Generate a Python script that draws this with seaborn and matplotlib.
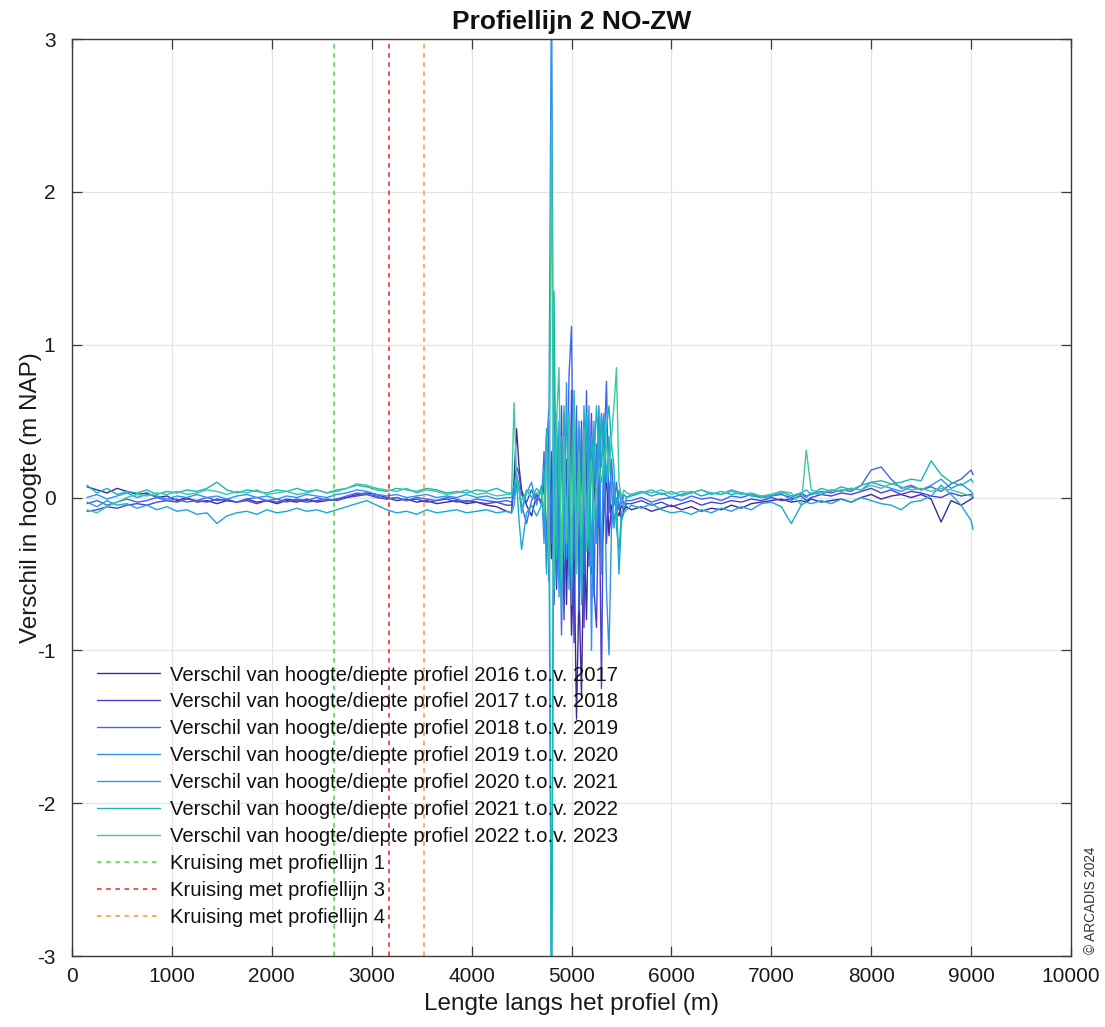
import numpy as np
import pandas as pd
import matplotlib
matplotlib.use("Agg")
import matplotlib.pyplot as plt
import seaborn as sns

# ---------------- data ----------------
dist_left = [150, 250, 350, 450, 550, 650, 750, 850, 950, 1050, 1150, 1250, 1350, 1450, 1550,
             1650, 1750, 1850, 1950, 2050, 2150, 2250, 2350, 2450, 2550, 2650, 2750, 2850, 2950,
             3050, 3150, 3250, 3350, 3450, 3550, 3650, 3750, 3850, 3950, 4050, 4150, 4250, 4350]
dist_mid = [4400, 4425, 4450, 4475, 4500, 4550, 4600, 4650, 4700, 4725, 4750, 4775, 4800, 4825,
            4850, 4875, 4900, 4925, 4950, 4975, 5000, 5025, 5050, 5075, 5100, 5125, 5150, 5175,
            5200, 5225, 5250, 5275, 5300, 5325, 5350, 5375, 5400, 5425, 5450, 5475, 5500, 5525, 5550]
dist_right = [5600, 5700, 5800, 5900, 6000, 6100, 6200, 6300, 6400, 6500, 6600, 6700, 6800, 6900,
              7000, 7100, 7200, 7300, 7350, 7400, 7500, 7600, 7700, 7800, 7900, 8000, 8100, 8200,
              8300, 8400, 8500, 8600, 8700, 8800, 8900, 9000, 9020]
afstand = dist_left + dist_mid + dist_right

v2016_2017 = [0.07, 0.05, 0.03, 0.06, 0.04, 0.02, 0.03, 0.00, 0.01, -0.02, 0.00, -0.03, -0.02, -0.04, -0.02, -0.03, -0.01, -0.03, -0.02, -0.04, -0.02, -0.03, -0.01, -0.03, -0.02, -0.01, 0.00, 0.02, 0.03, 0.02, 0.00, -0.02, -0.01, -0.03, -0.02, -0.04, -0.03, -0.02, -0.04, -0.03, -0.05, -0.06, -0.09,
              -0.10, 0.12, 0.45, 0.20, 0.05, -0.05, -0.12, 0.02, -0.03, 0.10, -0.35, 0.25, -0.40, 0.30, -0.60, 0.20, -0.45, 0.35, -0.70, 0.15, -0.90, -0.30, -1.45, -0.60, -1.30, -0.20, -0.80, 0.10, -0.50, 0.20, -0.30, 0.05, -0.40, -0.10, 0.15, -0.25, -0.05, -0.15, -0.08, -0.12, -0.05, -0.08, -0.06,
              -0.08, -0.06, -0.09, -0.07, -0.05, -0.08, -0.06, -0.09, -0.07, -0.08, -0.05, -0.07, -0.04, -0.03, -0.02, -0.01, -0.03, -0.02, -0.03, -0.01, -0.03, -0.02, -0.01, -0.03, 0.00, 0.02, -0.01, 0.01, 0.02, 0.00, 0.02, -0.01, -0.16, -0.02, -0.05, -0.01, 0.00]
v2017_2018 = [-0.09, -0.08, -0.06, -0.07, -0.05, -0.04, -0.05, -0.03, -0.02, -0.03, -0.01, -0.02, -0.03, -0.01, -0.02, -0.03, -0.02, -0.04, -0.02, -0.03, -0.01, -0.02, -0.03, -0.02, -0.01, -0.02, 0.00, 0.01, 0.02, 0.00, -0.01, 0.00, -0.02, -0.01, -0.03, -0.02, -0.01, -0.03, -0.02, -0.03, -0.04, -0.03, -0.05,
              -0.05, 0.05, 0.20, 0.15, 0.02, -0.03, 0.05, -0.02, 0.05, -0.20, 0.40, -0.55, 0.30, -0.70, 0.45, -0.40, 0.60, -0.80, 0.25, -0.50, 0.70, -0.95, 0.35, -0.60, 0.50, -0.85, 0.30, -0.45, 0.55, -0.60, -0.85, 0.20, -1.25, 0.45, -0.30, 0.10, -0.20, 0.05, -0.10, -0.05, -0.15, -0.08, -0.04,
              -0.04, -0.02, -0.05, -0.03, -0.06, -0.04, -0.02, -0.05, -0.03, -0.04, -0.02, -0.03, -0.01, -0.02, 0.00, -0.02, -0.01, 0.01, -0.02, 0.00, 0.02, 0.01, 0.03, 0.02, 0.04, 0.06, 0.03, 0.05, 0.02, 0.04, 0.03, 0.01, 0.00, 0.03, 0.01, 0.02, 0.00]
v2018_2019 = [-0.04, -0.02, -0.05, -0.03, -0.01, -0.03, -0.02, 0.00, -0.02, -0.01, -0.03, -0.02, 0.00, -0.02, -0.01, -0.03, -0.01, 0.00, -0.02, -0.01, -0.03, -0.01, -0.02, 0.00, -0.02, -0.01, 0.01, 0.03, 0.02, 0.01, -0.01, 0.00, -0.02, 0.00, -0.01, -0.02, 0.00, -0.01, -0.03, -0.01, -0.02, -0.03, -0.02,
              -0.03, 0.02, 0.10, 0.05, -0.05, -0.17, -0.02, 0.03, -0.05, 0.30, -0.45, 0.50, -0.30, 0.65, -0.55, 0.40, -0.90, 0.55, -0.35, 0.80, 1.12, -0.40, 0.60, -0.75, 0.45, -0.50, 0.70, -0.30, 0.50, -0.65, 0.35, -0.20, 0.55, 0.30, 0.76, -0.10, 0.25, -0.05, 0.10, -0.08, 0.02, -0.05, -0.02,
              -0.02, 0.00, -0.03, -0.01, 0.00, -0.02, 0.01, -0.01, 0.00, -0.02, 0.01, 0.00, 0.02, 0.00, 0.01, 0.02, 0.00, 0.03, 0.01, 0.02, 0.04, 0.03, 0.05, 0.04, 0.08, 0.18, 0.20, 0.12, 0.06, 0.08, 0.05, 0.07, 0.04, 0.09, 0.12, 0.18, 0.15]
v2019_2020 = [0.00, 0.02, -0.01, 0.01, 0.03, 0.00, 0.02, 0.01, -0.01, 0.01, 0.00, 0.02, 0.00, 0.01, -0.01, 0.01, 0.02, 0.00, 0.01, -0.01, 0.01, 0.00, 0.02, 0.01, 0.00, 0.02, 0.03, 0.05, 0.04, 0.02, 0.01, 0.02, 0.00, 0.01, 0.02, 0.00, 0.01, 0.00, 0.02, 0.00, 0.01, -0.01, 0.00,
              0.00, 0.05, 0.15, 0.08, -0.10, 0.03, 0.10, -0.05, 0.08, -0.30, 0.35, 0.60, 3.50, -0.50, 0.55, -0.65, 0.40, -0.35, 0.75, -0.60, 0.30, 0.65, -0.45, 0.50, -0.70, 0.40, -0.30, 0.60, -1.00, 0.35, 0.10, 0.60, -0.50, 0.40, -0.60, -1.03, -0.20, 0.10, -0.15, 0.05, -0.05, 0.02, 0.00,
              0.02, 0.04, 0.01, 0.03, 0.00, 0.02, 0.04, 0.01, 0.03, 0.02, 0.05, 0.03, 0.02, 0.00, 0.01, 0.03, -0.02, 0.02, 0.00, 0.03, 0.02, 0.05, 0.04, 0.06, 0.05, 0.10, 0.08, 0.06, 0.04, 0.07, 0.05, 0.08, 0.12, 0.06, 0.09, 0.04, 0.02]
v2020_2021 = [-0.03, -0.06, -0.02, -0.05, -0.04, -0.07, -0.05, -0.08, -0.06, -0.09, -0.08, -0.11, -0.10, -0.17, -0.12, -0.10, -0.09, -0.11, -0.08, -0.10, -0.09, -0.07, -0.09, -0.08, -0.10, -0.08, -0.06, -0.04, -0.02, -0.05, -0.08, -0.10, -0.09, -0.11, -0.08, -0.10, -0.09, -0.08, -0.10, -0.09, -0.08, -0.10, -0.09,
              -0.10, -0.05, 0.10, -0.15, -0.34, -0.10, -0.05, -0.12, -0.05, 0.20, -0.50, 0.30, -3.50, 0.40, -0.35, 0.50, -0.60, 0.30, -0.40, 0.55, -0.70, 0.25, -0.35, 0.45, -0.55, 0.60, -0.25, 0.40, -0.45, 0.50, -0.30, 0.45, 0.20, 0.55, 0.10, 0.40, 0.05, -0.20, 0.00, -0.50, -0.15, -0.10, -0.08,
              -0.05, -0.07, -0.04, -0.08, -0.10, -0.09, -0.11, -0.08, -0.10, -0.07, -0.09, -0.06, -0.08, -0.04, -0.03, -0.06, -0.17, -0.05, -0.03, -0.04, -0.02, -0.04, -0.01, -0.03, 0.00, -0.02, -0.04, -0.05, -0.08, -0.03, -0.02, 0.01, 0.08, 0.02, -0.05, -0.15, -0.21]
v2021_2022 = [0.08, 0.03, 0.06, 0.02, 0.04, 0.03, 0.05, 0.02, 0.04, 0.03, 0.05, 0.04, 0.06, 0.10, 0.05, 0.03, 0.05, 0.04, 0.03, 0.05, 0.04, 0.06, 0.04, 0.05, 0.03, 0.05, 0.06, 0.08, 0.07, 0.05, 0.04, 0.06, 0.05, 0.04, 0.06, 0.05, 0.03, 0.04, 0.03, 0.05, 0.04, 0.06, 0.03,
              0.03, 0.08, 0.15, 0.05, -0.08, 0.05, 0.00, 0.06, 0.02, -0.15, 0.45, -0.30, -3.50, 1.35, -0.40, 0.35, -0.75, 0.60, -0.30, 0.40, -0.55, 0.70, -0.20, 0.35, -0.65, 0.30, 0.55, -0.35, 0.40, 0.20, 0.60, 0.30, 0.55, 0.15, 0.45, 0.60, 0.35, 0.20, -0.20, -0.35, -0.10, -0.05, 0.00,
              0.01, 0.03, 0.05, 0.02, 0.04, 0.01, 0.03, 0.05, 0.02, 0.04, 0.02, 0.03, 0.01, 0.00, 0.02, 0.04, 0.01, 0.03, 0.05, 0.02, 0.06, 0.04, 0.07, 0.05, 0.08, 0.10, 0.11, 0.09, 0.10, 0.12, 0.11, 0.24, 0.15, 0.10, 0.08, 0.12, 0.10]
v2022_2023 = [-0.08, -0.10, -0.06, -0.03, 0.00, 0.02, 0.01, 0.03, 0.02, 0.04, 0.02, 0.03, 0.05, 0.04, 0.02, 0.04, 0.03, 0.05, 0.02, 0.03, 0.04, 0.02, 0.03, 0.05, 0.03, 0.04, 0.06, 0.09, 0.08, 0.06, 0.05, 0.04, 0.06, 0.03, 0.05, 0.04, 0.02, 0.03, 0.05, 0.02, 0.03, 0.01, 0.02,
              0.02, 0.62, 0.12, 0.04, -0.02, 0.04, 0.05, 0.02, 0.05, -0.10, 0.30, -0.45, 2.45, -0.60, 0.50, 0.85, -0.55, 0.40, -0.30, 0.55, -0.45, 0.65, -0.50, 0.30, -0.25, 0.45, -0.35, 0.10, 0.25, -0.15, 0.05, 0.20, 0.10, 0.25, 0.35, 0.15, 0.40, 0.60, 0.85, 0.10, 0.00, 0.05, 0.03,
              0.02, 0.04, 0.03, 0.05, 0.02, 0.04, 0.03, 0.05, 0.03, 0.02, 0.04, 0.02, 0.03, 0.01, 0.02, 0.04, 0.03, -0.05, 0.31, 0.05, 0.03, 0.05, 0.04, 0.06, 0.05, 0.08, 0.06, 0.09, 0.07, 0.05, 0.06, 0.04, 0.06, 0.05, 0.03, 0.01, 0.01]

series_labels = [
    "Verschil van hoogte/diepte profiel 2016 t.o.v. 2017",
    "Verschil van hoogte/diepte profiel 2017 t.o.v. 2018",
    "Verschil van hoogte/diepte profiel 2018 t.o.v. 2019",
    "Verschil van hoogte/diepte profiel 2019 t.o.v. 2020",
    "Verschil van hoogte/diepte profiel 2020 t.o.v. 2021",
    "Verschil van hoogte/diepte profiel 2021 t.o.v. 2022",
    "Verschil van hoogte/diepte profiel 2022 t.o.v. 2023",
]
series_values = [v2016_2017, v2017_2018, v2018_2019, v2019_2020, v2020_2021, v2021_2022, v2022_2023]
series_colors = ["#3e2a9c", "#4a40d4", "#3e66ec", "#2f92ee", "#1ca6d6", "#18b6b8", "#3cc89c"]

kruising_pos = [2623, 3173, 3523]
kruising_labels = ["Kruising met profiellijn 1", "Kruising met profiellijn 3", "Kruising met profiellijn 4"]
kruising_colors = ["#3ddc3d", "#ee2222", "#f59a30"]

x_ticks = [0, 1000, 2000, 3000, 4000, 5000, 6000, 7000, 8000, 9000, 10000]
y_ticks = [-3, -2, -1, 0, 1, 2, 3]

for v in series_values:
    assert len(v) == len(afstand), len(v)

rows = []
for lab, vals in zip(series_labels, series_values):
    for xx, yy in zip(afstand, vals):
        rows.append((lab, xx, yy))
df = pd.DataFrame(rows, columns=["reeks", "afstand", "verschil"])

# ---------------- style ----------------
sns.set_theme(style="white")
plt.rcParams["font.family"] = ["Liberation Sans", "DejaVu Sans"]
plt.rcParams["axes.unicode_minus"] = False

fig = plt.figure(figsize=(11.05, 10.27), dpi=100)
ax = fig.add_axes([0.0652, 0.0691, 0.9040, 0.8929])

sns.lineplot(data=df, x="afstand", y="verschil", hue="reeks",
             hue_order=series_labels, palette=series_colors,
             estimator=None, sort=False, linewidth=1.0, ax=ax, legend=True)

for pos, lab, col in zip(kruising_pos, kruising_labels, kruising_colors):
    ax.axvline(pos, color=col, linestyle=(0, (3, 3)), linewidth=1.1, label=lab)

ax.set_xlim(0, 10000)
ax.set_ylim(-3, 3)
ax.set_xticks(x_ticks)
ax.set_yticks(y_ticks)
ax.grid(True, color="#e4e4e4", linewidth=0.9)
for s in ax.spines.values():
    s.set_visible(True)
    s.set_color("#3a3a3a")
    s.set_linewidth(1.0)
ax.tick_params(direction="in", length=7, width=0.9, colors="#3a3a3a",
               labelcolor="#1a1a1a", labelsize=15, top=True, right=True,
               bottom=True, left=True)
ax.tick_params(axis="y", pad=12)
ax.tick_params(axis="x", pad=8)

ax.set_xlabel("Lengte langs het profiel (m)", fontsize=17.5, color="#1a1a1a", labelpad=5)
ax.set_ylabel("Verschil in hoogte (m NAP)", fontsize=17.5, color="#1a1a1a", labelpad=-4)
ax.set_title("Profiellijn 2 NO-ZW", fontsize=19, fontweight="bold", color="#111111", pad=7)

handles, labels = ax.get_legend_handles_labels()
leg = ax.legend(handles, labels, loc="lower left", bbox_to_anchor=(0.025, 0.032),
                frameon=False, fontsize=14.6, handlelength=3.1, handletextpad=0.5,
                labelspacing=0.39, borderpad=0, borderaxespad=0)
for t in leg.get_texts():
    t.set_color("#111111")

fig.text(0.987, 0.071, "© ARCADIS 2024", rotation=90, fontsize=9.8, color="#333333",
         ha="center", va="bottom")

fig.savefig("out.png", dpi=100, facecolor="white")
